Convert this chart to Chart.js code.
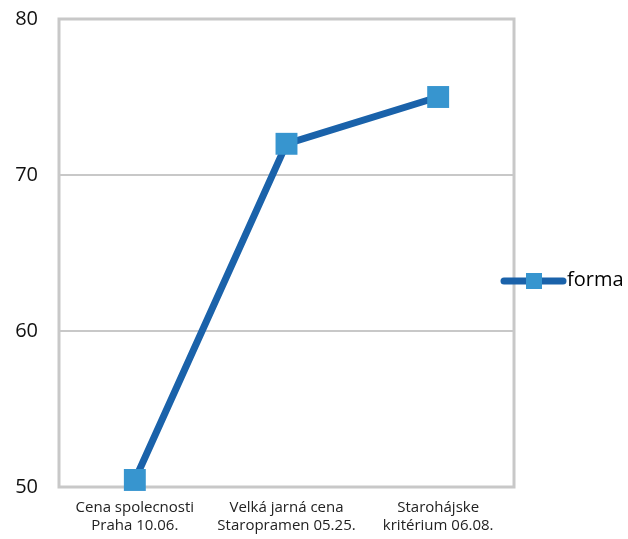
<!DOCTYPE html>
<html>
<head>
<meta charset="utf-8">
<script src="https://cdn.jsdelivr.net/npm/chart.js"></script>
<style>
  html, body { margin: 0; padding: 0; background: #fff; }
  #wrap { width: 628px; height: 539px; }
</style>
</head>
<body>
<div id="wrap"><canvas id="myChart"></canvas></div>
<script>
const races = [['Cena spolecnosti', 'Praha 10.06.'], ['Velká jarná cena', 'Staropramen 05.25.'], ['Starohájske', 'kritérium 06.08.']];
const forma = [50.45, 72, 75];
const yTicks = [50, 60, 70, 80];

const lineColor = '#1a62aa';
const markerColor = '#3795cf';
const gridColor = '#c8c8c8';

// box round the plot and the legend that sits over its right edge
const frameAndLegend = {
  id: 'frameAndLegend',
  beforeDatasetsDraw(chart) {
    const a = chart.chartArea;
    const ctx = chart.ctx;
    ctx.save();
    ctx.strokeStyle = gridColor;
    ctx.lineWidth = 3;
    ctx.strokeRect(a.left, a.top, a.right - a.left, a.bottom - a.top);
    ctx.restore();
  },
  afterDraw(chart) {
    const ctx = chart.ctx;
    const y = 281;
    ctx.save();
    ctx.strokeStyle = lineColor;
    ctx.lineWidth = 7;
    ctx.lineCap = 'round';
    ctx.beginPath();
    ctx.moveTo(504, y);
    ctx.lineTo(563, y);
    ctx.stroke();
    ctx.fillStyle = markerColor;
    ctx.fillRect(526, y - 8, 16, 16);
    ctx.fillStyle = '#000';
    ctx.font = '20px "Open Sans", sans-serif';
    ctx.textBaseline = 'middle';
    ctx.fillText(chart.data.datasets[0].label, 567, y - 1);
    ctx.restore();
  }
};

new Chart('myChart', {
  type: 'line',
  data: {
    labels: races,
    datasets: [{
      label: 'forma',
      data: forma,
      borderColor: lineColor,
      borderWidth: 7,
      backgroundColor: markerColor,
      pointStyle: 'rect',
      pointRadius: 15.5,
      pointHoverRadius: 15.5,
      pointBorderWidth: 0,
      pointBackgroundColor: markerColor,
      tension: 0,
      clip: false
    }]
  },
  options: {
    responsive: true,
    maintainAspectRatio: false,
    animation: false,
    layout: { padding: { top: 19, right: 114, left: 0, bottom: 0 } },
    plugins: { legend: { display: false }, tooltip: { enabled: false } },
    scales: {
      x: {
        offset: true,
        grid: { display: false },
        border: { display: false },
        ticks: {
          color: '#222',
          font: { family: '"Open Sans", sans-serif', size: 15, lineHeight: 1.25 },
          padding: 3,
          maxRotation: 0
        },
        afterFit(scale) { scale.height = 52; }
      },
      y: {
        min: 50,
        max: 80,
        afterBuildTicks(scale) { scale.ticks = yTicks.map(v => ({ value: v })); },
        grid: { color: gridColor, lineWidth: 2, drawTicks: false },
        border: { display: false },
        ticks: {
          color: '#111',
          font: { family: '"Open Sans", sans-serif', size: 20 },
          padding: 21
        },
        afterFit(scale) {
          scale.width = 59;
          scale.paddingTop = 0;
          scale.paddingBottom = 0;
        }
      }
    }
  },
  plugins: [frameAndLegend]
});
</script>
</body>
</html>
